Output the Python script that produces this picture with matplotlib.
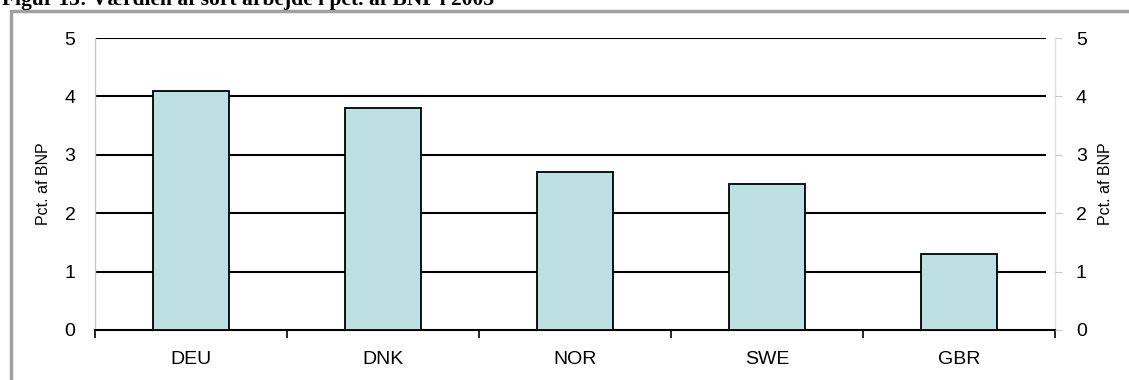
import matplotlib
matplotlib.use("Agg")
import matplotlib.pyplot as plt
from matplotlib.patches import Rectangle

countries = ["DEU", "DNK", "NOR", "SWE", "GBR"]
shares = [4.1, 3.8, 2.7, 2.5, 1.3]
yticks = [0, 1, 2, 3, 4, 5]

plt.rcParams["font.family"] = ["Liberation Sans", "DejaVu Sans"]

fig = plt.figure(figsize=(11.29, 3.8), dpi=100)
W, H = 1129, 380

# frame around the figure, open at right and bottom
fig.add_artist(Rectangle((11 / W, -0.1), 1.2, 1.1 - 11 / H, transform=fig.transFigure,
                         fill=False, edgecolor="#a0a0a0", linewidth=2.5))
fig.text(2 / W, 1 - 5 / H, "Figur 13: Værdien af sort arbejde i pct. af BNP i 2003",
         family="Liberation Serif", weight="bold", fontsize=15.5, va="baseline", ha="left")

ax = fig.add_axes([95 / W, 1 - 330 / H, 960 / W, 292 / H])
x = range(len(countries))
ax.bar(x, shares, width=0.4, color="#bde0e3", edgecolor="black", linewidth=1.3, zorder=3)

ax.set_xlim(-0.5, len(countries) - 0.5)
ax.set_ylim(0, 5)
ax.set_yticks(yticks)
ax.set_xticks(list(x))
ax.set_xticklabels(countries, fontsize=14)
ax.set_xticks([i - 0.5 for i in range(len(countries) + 1)], minor=True)
ax.tick_params(axis="x", which="major", length=0, pad=15)
ax.tick_params(axis="x", which="minor", length=6, width=1.2, direction="out", color="black")
ax.tick_params(axis="y", length=0, labelsize=14, pad=14)

for y in yticks[1:]:
    ax.axhline(y, xmin=0, xmax=0.99, color="black", linewidth=1.5, zorder=2)

ax.spines["top"].set_visible(False)
ax.spines["left"].set_color("#c8c8c8")
ax.spines["left"].set_linewidth(1)
ax.spines["right"].set_color("#e0e0e0")
ax.spines["right"].set_linewidth(1)
ax.spines["bottom"].set_linewidth(1.5)
ax.set_ylabel("Pct. af BNP", fontsize=11.5, labelpad=10)

ax2 = ax.twinx()
ax2.set_ylim(0, 5)
ax2.set_yticks(yticks)
ax2.tick_params(axis="y", length=5, color="#c8c8c8", labelsize=14, pad=10)
for side in ["top", "left", "bottom", "right"]:
    ax2.spines[side].set_visible(False)
ax2.set_ylabel("Pct. af BNP", fontsize=11.5, labelpad=8)

fig.savefig("out.png", dpi=100)
